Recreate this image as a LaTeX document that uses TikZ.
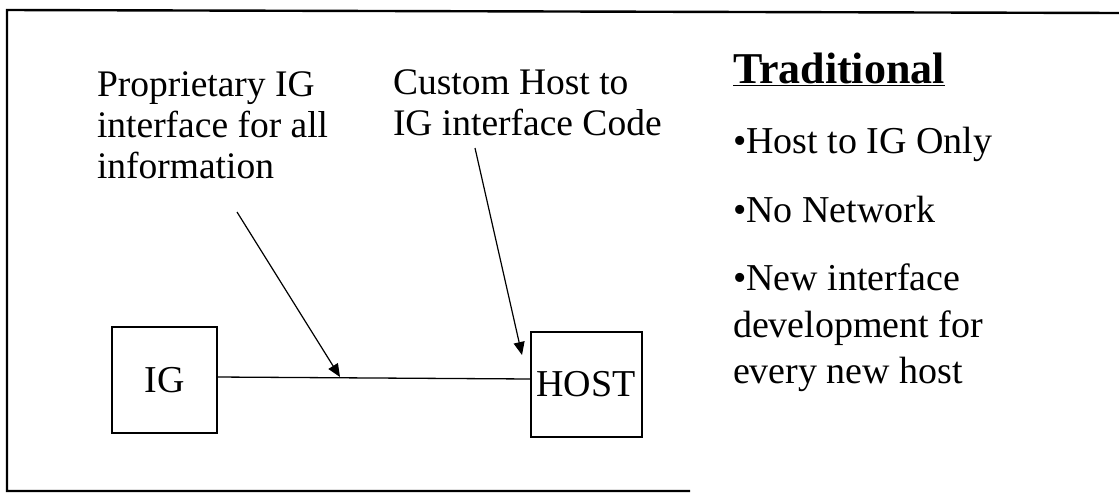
\documentclass[tikz,border=0pt]{standalone}
\usepackage{fontspec}
\setmainfont{Liberation Serif}
\usetikzlibrary{arrows.meta,calc}
\begin{document}
\begin{tikzpicture}[x=1pt,y=-1pt,
  every node/.style={inner sep=0pt,outer sep=0pt},
  lbl/.style={anchor=north west,align=left,font=\fontsize{37.5}{41}\selectfont},
  bul/.style={anchor=north west,align=left,font=\fontsize{38}{46.5}\selectfont},
  boxnode/.style={draw,line width=1.4pt,font=\fontsize{38}{46}\selectfont},
  conn/.style={line width=1.3pt},
  pointer/.style={line width=1.2pt,-{Triangle[length=13pt,width=11pt]}},
  frame/.style={line width=2.4pt}]
\useasboundingbox (0,0) rectangle (1119,496);
% frame
\coordinate (ftr) at (1119,13);
\coordinate (ftl) at (7,10);
\coordinate (fbl) at (7,491);
\coordinate (fbr) at (690,491);
\draw[frame] (ftr) -- (ftl) -- (fbl) -- (fbr);
% boxes
\node[boxnode,minimum width=105pt,minimum height=106pt] (ig) at (164.5,380) {IG};
\node[boxnode,minimum width=111pt,minimum height=105pt,text width=100pt,align=left] (host) at (586.5,384.5) {HOST};
\draw[conn] ($(ig.east)+(0,-3)$) -- ($(host.west)+(0,-5.5)$);
% labels
\node[lbl] (l1) at (97,71.5) {Proprietary IG\\interface for all\\information};
\node[lbl] (l2) at (393,69.5) {Custom Host to\\IG interface Code};
\coordinate (a1s) at (237,212);
\coordinate (a1e) at (340,377);
\coordinate (a2s) at (475,148);
\coordinate (a2e) at (522,355);
\draw[pointer] (a1s) -- (a1e);
\draw[pointer] (a2s) -- (a2e);
% right panel
\node[anchor=base west,font=\fontsize{44}{50}\selectfont\bfseries] (title) at (733,83) {\underline{Traditional}};
\node[bul,anchor=base west] (b1) at (733,153) {•Host to IG Only};
\node[bul,anchor=base west] (b2) at (733,222) {•No Network};
\node[bul] (b3) at (733,264) {•New interface\\development for\\every new host};
\end{tikzpicture}
\end{document}
